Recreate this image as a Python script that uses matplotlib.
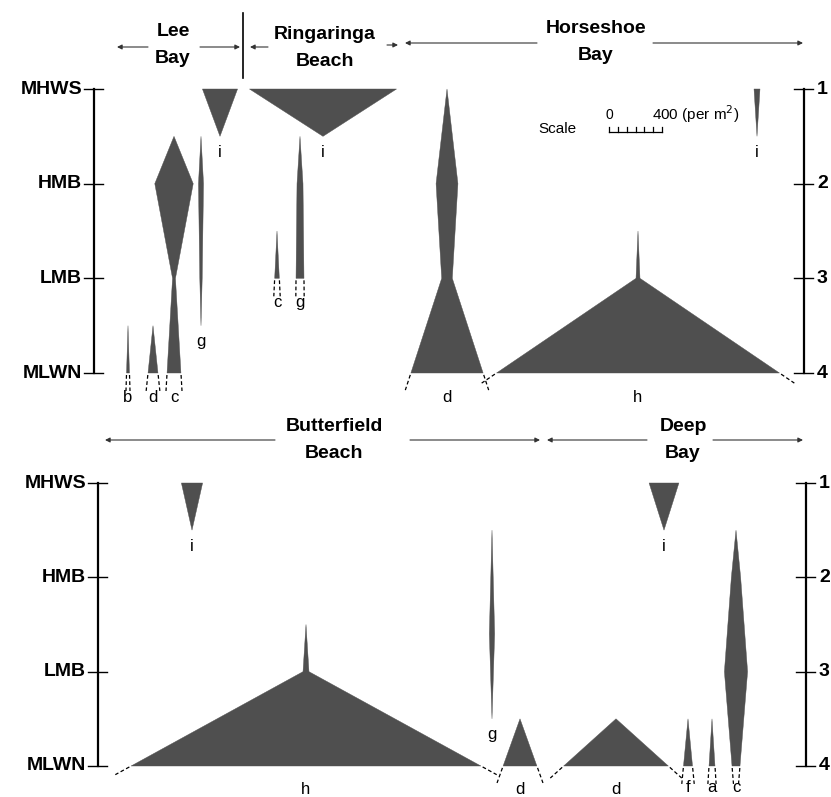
import numpy as np
import matplotlib
matplotlib.use("Agg")
import matplotlib.pyplot as plt

plt.rcParams["font.family"] = ["Liberation Sans", "DejaVu Sans"]

# zone names on the left, level numbers on the right
zones = ["MHWS", "HMB", "LMB", "MLWN"]
zone_levels = [1, 2, 3, 4]
level_numbers = ["1", "2", "3", "4"]

# kites: site, species letter, shore levels and density (per m2) at those levels
kite_site = ["Lee Bay", "Lee Bay", "Lee Bay", "Lee Bay", "Lee Bay",
             "Ringaringa Beach", "Ringaringa Beach", "Ringaringa Beach",
             "Horseshoe Bay", "Horseshoe Bay", "Horseshoe Bay",
             "Butterfield Beach", "Butterfield Beach", "Butterfield Beach", "Butterfield Beach",
             "Deep Bay", "Deep Bay", "Deep Bay", "Deep Bay", "Deep Bay"]
kite_species = ["b", "d", "c", "g", "i",
                "c", "g", "i",
                "d", "h", "i",
                "i", "h", "g", "d",
                "d", "i", "f", "a", "c"]
kite_levels = [[3.5, 4], [3.5, 4], [1.5, 2, 3, 4], [1.5, 2, 3, 3.5], [1, 1.5],
               [2.5, 3], [1.5, 2, 3], [1, 1.5],
               [1, 2, 3, 4], [2.5, 3, 4], [1, 1.5],
               [1, 1.5], [2.5, 3, 4], [1.5, 2.6, 3.5], [3.5, 4],
               [3.5, 4], [1, 1.5], [3.5, 4], [3.5, 4], [1.5, 2, 3, 4]]
kite_density = [[0, 22], [0, 75], [0, 290, 22, 105], [0, 38, 18, 0], [265, 0],
                [0, 35], [0, 45, 60], [1110, 0],
                [0, 165, 80, 545], [0, 30, 2135], [45, 0],
                [160, 0], [0, 45, 2640], [0, 40, 0], [0, 255],
                [0, 790], [225, 0], [0, 68], [0, 45], [0, 70, 175, 60]]

# horizontal position of each kite along the shore (pixels)
kite_x = [128, 153, 174, 201, 220,
          277, 300, 323,
          447, 638, 757,
          192, 306, 492, 520,
          616, 664, 688, 712, 736]
label_drop = {17: 21, 18: 21, 19: 21}

scale_max = 400
scale_ticks = np.linspace(0, 400, 7)

W, H = 831, 797
PX_PER_UNIT = 53 / 400
KITE = "#4f4f4f"

fig = plt.figure(figsize=(W / 100, H / 100), dpi=100)

# overlay axes in pixel coordinates for headings
ov = fig.add_axes([0, 0, 1, 1])
ov.set_xlim(0, W)
ov.set_ylim(H, 0)
ov.axis("off")


def panel(y0, y1, lvl1, lvl4):
    ax = fig.add_axes([0, 1 - y1 / H, 1, (y1 - y0) / H])
    per = (lvl4 - lvl1) / 3
    ax.set_xlim(0, W)
    ax.set_ylim(1 + (y1 - lvl1) / per, 1 - (lvl1 - y0) / per)
    ax.axis("off")
    return ax, per


top, top_px = panel(0, 400, 89, 373)
bot, bot_px = panel(400, 797, 483, 766)
panels = {"Lee Bay": (top, top_px), "Ringaringa Beach": (top, top_px),
          "Horseshoe Bay": (top, top_px),
          "Butterfield Beach": (bot, bot_px), "Deep Bay": (bot, bot_px)}


def shore_axis(ax, x, side):
    ax.plot([x, x], [zone_levels[0], zone_levels[-1]], color="black", lw=1.6)
    for lv, name in zip(zone_levels, zones if side == "left" else level_numbers):
        ax.plot([x - 10, x + 9], [lv, lv], color="black", lw=1)
        if side == "left":
            ax.text(x - 12, lv, name, ha="right", va="center",
                    fontsize=14, fontweight="bold")
        else:
            ax.text(x + 13, lv, name, ha="left", va="center",
                    fontsize=14, fontweight="bold")


shore_axis(top, 94, "left")
shore_axis(top, 804, "right")
shore_axis(bot, 98, "left")
shore_axis(bot, 806, "right")

for k in range(len(kite_species)):
    ax, lpx = panels[kite_site[k]]
    xc = kite_x[k]
    lv = np.array(kite_levels[k], dtype=float)
    half = np.array(kite_density[k], dtype=float) * PX_PER_UNIT / 2
    xs = np.concatenate([xc - half, (xc + half)[::-1]])
    ys = np.concatenate([lv, lv[::-1]])
    ax.fill(xs, ys, color=KITE, lw=0.3, ec=KITE)
    if half[-1] > 0:
        # dashed continuation of the lower edges below the base
        s = (half[-1] - half[-2]) / (lv[-1] - lv[-2]) / lpx
        dy = 1 / np.hypot(s, 1)
        for sign in (-1, 1):
            x0 = xc + sign * half[-1]
            p0 = 2
            p1 = 18
            ax.plot([x0 + sign * s * dy * p0, x0 + sign * s * dy * p1],
                    [lv[-1] + dy * p0 / lpx, lv[-1] + dy * p1 / lpx],
                    color="black", lw=0.9, ls=(0, (3, 2)))
        drop = label_drop.get(k, 24)
    else:
        drop = 16
    ax.text(xc, lv[-1] + drop / lpx, kite_species[k], ha="center",
            va="center", fontsize=12)

# scale bar
sx0, sy = 609, 1.45
sc = top
sc.plot([sx0, sx0 + scale_max * PX_PER_UNIT], [sy, sy], color="black", lw=0.9)
for t in scale_ticks:
    sc.plot([sx0 + t * PX_PER_UNIT] * 2, [sy, sy - 5 / top_px],
            color="black", lw=0.9)
sc.text(sx0, sy - 17 / top_px, "0", ha="center", va="center", fontsize=10)
sc.text(sx0 + scale_max * PX_PER_UNIT - 10, sy - 17 / top_px,
        "400 (per m$^2$)", ha="left", va="center", fontsize=11)
sc.text(538, sy - 3 / top_px, "Scale", ha="left", va="center", fontsize=11)

# headings with arrows
headings = [("Lee\nBay", 173, 45), ("Ringaringa\nBeach", 325, 48),
            ("Horseshoe\nBay", 596, 42), ("Butterfield\nBeach", 334, 440),
            ("Deep\nBay", 683, 440)]
arrows = [(148, 117, 47), (200, 240, 47), (268, 250, 47), (387, 398, 45),
          (537, 405, 43), (653, 803, 43), (275, 105, 440), (410, 540, 440),
          (647, 547, 440), (713, 803, 440)]
for txt, x, y in headings:
    ov.text(x, y, txt, ha="center", va="center", fontsize=14,
            fontweight="bold", linespacing=1.7)
for xa, xb, y in arrows:
    ov.annotate("", xy=(xb, y), xytext=(xa, y),
                arrowprops=dict(arrowstyle="-|>", lw=0.8, color="#333333",
                                mutation_scale=7, shrinkA=0, shrinkB=0))
ov.plot([243, 243], [13, 78], color="black", lw=1.2)

fig.savefig("out.png", dpi=100)
